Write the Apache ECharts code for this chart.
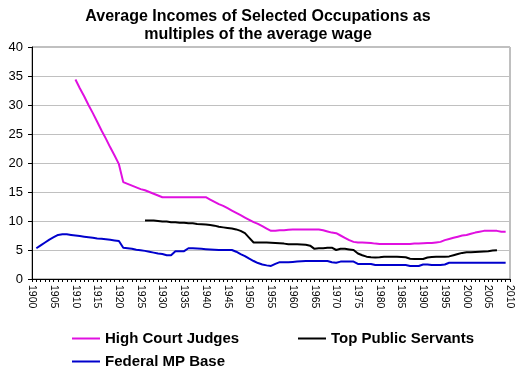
<!DOCTYPE html>
<html>
<head>
<meta charset="utf-8">
<script src="https://cdn.jsdelivr.net/npm/echarts@6/dist/echarts.min.js"></script>
<style>html,body{margin:0;padding:0;background:#fff}#c{width:516px;height:371px}</style>
</head>
<body>
<div id="c"></div>
<script>
// Years on the category axis
var firstYear = 1900;
var lastYear = 2010;

// High Court Judges, from 1910
var judgesStart = 1910;
var judges = [34.4,32.9,31.5,30.0,28.6,27.1,25.6,24.2,22.7,21.3,19.8,16.7,16.4,16.1,15.8,15.5,15.3,15.0,14.7,14.4,14.1,
  14.1,14.1,14.1,14.1,14.1,14.1,14.1,14.1,14.1,14.1,
  13.7,13.3,12.9,12.6,12.2,11.8,11.4,11.0,10.6,10.2,9.8,9.5,9.1,8.7,8.3,
  8.3,8.4,8.4,8.5,8.55,8.55,8.55,8.55,8.55,8.55,8.55,8.4,8.2,8.0,7.9,
  7.5,7.1,6.7,6.4,6.3,6.3,6.25,6.2,6.1,6.05,6.05,6.05,6.05,6.05,6.05,6.05,6.05,6.1,6.1,6.15,
  6.2,6.2,6.3,6.4,6.7,6.9,7.1,7.3,7.5,7.6,7.8,8.0,8.15,8.3,8.3,8.3,8.3,8.15,8.15];

// Top Public Servants, from 1926
var servantsStart = 1926;
var servants = [10.1,10.1,10.1,10.0,9.9,9.9,9.8,9.8,9.7,9.7,9.6,9.6,9.5,9.45,9.4,
  9.3,9.2,9.0,8.9,8.8,8.7,8.55,8.3,7.9,7.1,6.3,6.3,6.3,6.3,6.25,
  6.2,6.15,6.1,6.0,6.0,6.0,5.95,5.9,5.75,5.2,5.3,5.3,5.4,5.4,5.0,
  5.2,5.2,5.1,5.0,4.4,4.1,3.85,3.75,3.7,3.75,3.85,3.85,3.85,3.85,3.8,
  3.75,3.5,3.45,3.45,3.45,3.7,3.8,3.85,3.85,3.85,3.9,4.1,4.3,4.5,4.6,
  4.6,4.65,4.7,4.75,4.8,4.9,4.95];

// Federal MP Base, from 1901
var mpStart = 1901;
var mp = [5.3,5.8,6.3,6.8,7.2,7.6,7.7,7.7,7.6,7.5,7.4,7.3,7.2,7.1,7.0,6.95,6.85,6.75,6.65,6.55,
  5.4,5.3,5.2,5.05,4.95,4.85,4.7,4.55,4.4,4.3,4.1,4.1,4.8,4.8,4.8,5.3,5.3,5.25,5.2,5.15,
  5.1,5.05,5.0,5.0,5.0,5.0,4.7,4.3,3.95,3.5,3.1,2.75,2.5,2.35,2.25,2.6,2.9,2.9,2.9,2.95,
  3.0,3.05,3.1,3.1,3.1,3.1,3.1,3.1,2.9,2.8,3.0,3.0,3.0,3.0,2.6,2.6,2.6,2.6,2.4,2.4,
  2.4,2.4,2.4,2.4,2.4,2.4,2.25,2.25,2.25,2.5,2.5,2.4,2.4,2.4,2.5,2.8,2.8,2.8,2.8,2.8,
  2.8,2.8,2.8,2.8,2.8,2.8,2.8,2.8,2.8];

var seriesNames = ['High Court Judges', 'Top Public Servants', 'Federal MP Base'];
var yTicks = [0,5,10,15,20,25,30,35,40];

var years = [];
for (var y = firstYear; y <= lastYear; y++) years.push(String(y));
function pad(start, arr) {
  var out = [];
  for (var y = firstYear; y <= lastYear; y++) {
    var i = y - start;
    out.push(i >= 0 && i < arr.length ? arr[i] : null);
  }
  return out;
}

var font = 'Liberation Sans, Arial, sans-serif';
var legendText = {fontFamily: font, fontSize: 15, fontWeight: 'bold', color: '#000'};
var chart = echarts.init(document.getElementById('c'), null, {renderer: 'canvas'});
chart.setOption({
  animation: false,
  backgroundColor: '#ffffff',
  title: {
    text: 'Average Incomes of Selected Occupations as\nmultiples of the average wage',
    left: 'center', top: 3,
    textStyle: {fontFamily: font, fontSize: 16, fontWeight: 'bold', color: '#000', lineHeight: 18}
  },
  grid: {left: 32, right: 6, top: 47, bottom: 92, show: true, borderColor: '#808080', borderWidth: 1},
  legend: [
    {data: [seriesNames[0]], left: 72, top: 331, padding: 0, itemWidth: 28, itemHeight: 2, icon: 'rect', textStyle: legendText},
    {data: [seriesNames[1]], left: 298, top: 331, padding: 0, itemWidth: 28, itemHeight: 2, icon: 'rect', textStyle: legendText},
    {data: [seriesNames[2]], left: 72, top: 354, padding: 0, itemWidth: 28, itemHeight: 2, icon: 'rect', textStyle: legendText}
  ],
  xAxis: {
    type: 'category', data: years, boundaryGap: false,
    axisLine: {lineStyle: {color: '#000', width: 1}},
    axisTick: {interval: 0, length: 3, lineStyle: {color: '#000'}},
    axisLabel: {interval: 4, rotate: -90, fontFamily: font, fontSize: 10.5, color: '#000', margin: 6},
    splitLine: {show: false}
  },
  yAxis: {
    type: 'value', min: yTicks[0], max: yTicks[yTicks.length - 1], interval: 5,
    axisLine: {show: true, lineStyle: {color: '#000', width: 1}},
    axisTick: {show: true, length: 4, lineStyle: {color: '#000'}},
    axisLabel: {fontFamily: font, fontSize: 13, color: '#000', margin: 9},
    splitLine: {show: true, lineStyle: {color: '#c0c0c0', width: 1}}
  },
  series: [
    {name: seriesNames[0], type: 'line', data: pad(judgesStart, judges), symbol: 'none', connectNulls: false,
     lineStyle: {color: '#e010e0', width: 2}, itemStyle: {color: '#e010e0'}},
    {name: seriesNames[1], type: 'line', data: pad(servantsStart, servants), symbol: 'none',
     lineStyle: {color: '#000000', width: 2}, itemStyle: {color: '#000000'}},
    {name: seriesNames[2], type: 'line', data: pad(mpStart, mp), symbol: 'none',
     lineStyle: {color: '#0000cc', width: 2}, itemStyle: {color: '#0000cc'}}
  ]
});
</script>
</body>
</html>
